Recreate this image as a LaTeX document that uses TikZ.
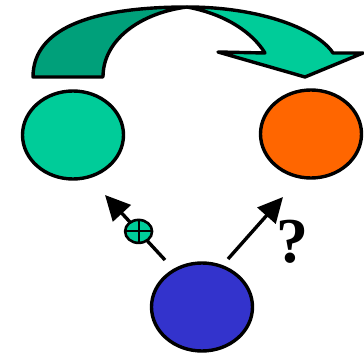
\documentclass[tikz,border=0pt]{standalone}
\usepackage{fontspec}
\setmainfont{Liberation Serif}
\usetikzlibrary{shapes.geometric, arrows.meta}
\definecolor{teal}{RGB}{0,204,153}
\definecolor{darkteal}{RGB}{0,160,122}
\definecolor{orange}{RGB}{255,102,0}
\definecolor{blue}{RGB}{51,51,204}

\begin{document}
\begin{tikzpicture}[x=1pt, y=-1pt, line join=round,
    blob/.style={ellipse, draw, line width=3.4pt, minimum width=101pt, minimum height=88pt, inner sep=0pt},
    link/.style={line width=3.4pt, -{Triangle[length=25pt, width=24pt]}}]
    \useasboundingbox (0,0) rectangle (364,355);

    % Curved arrow on top
    \filldraw[line width=3.4pt, fill=darkteal] (33,77) .. controls (33,25) and (100,7) .. (187,7)
        .. controls (140,13) and (103,40) .. (103,77) -- cycle;
    \filldraw[line width=3.4pt, fill=teal] (187,7) .. controls (262,7) and (318,30) .. (333,53)
        -- (363,53) -- (305,77) -- (218,52) -- (265,53)
        .. controls (252,32) and (225,14) .. (187,7) -- cycle;

    % Ellipses
    \node[blob, fill=teal] (orig) at (73,135) {};
    \node[blob, fill=orange] (target) at (311,134) {};
    \node[blob, fill=blue] (source) at (202,307) {};

    % Arrows
    \coordinate (la) at (165,260);
    \coordinate (lb) at (105,195);
    \coordinate (ra) at (228,259);
    \coordinate (rb) at (283,197);
    \draw[link] (la) -- (lb)
        node[pos=0.44, ellipse, draw, line width=2.6pt, fill=teal, minimum width=27pt, minimum height=23pt, inner sep=0pt,
            path picture={\draw[-, line width=2.2pt] (path picture bounding box.north) -- (path picture bounding box.south)
                (path picture bounding box.west) -- (path picture bounding box.east);}] (plus) {};
    \draw[link] (ra) -- (rb);
    \node[font=\fontsize{64}{64}\selectfont\bfseries, inner sep=0pt] (quest) at (292,242) {?};
\end{tikzpicture}
\end{document}
